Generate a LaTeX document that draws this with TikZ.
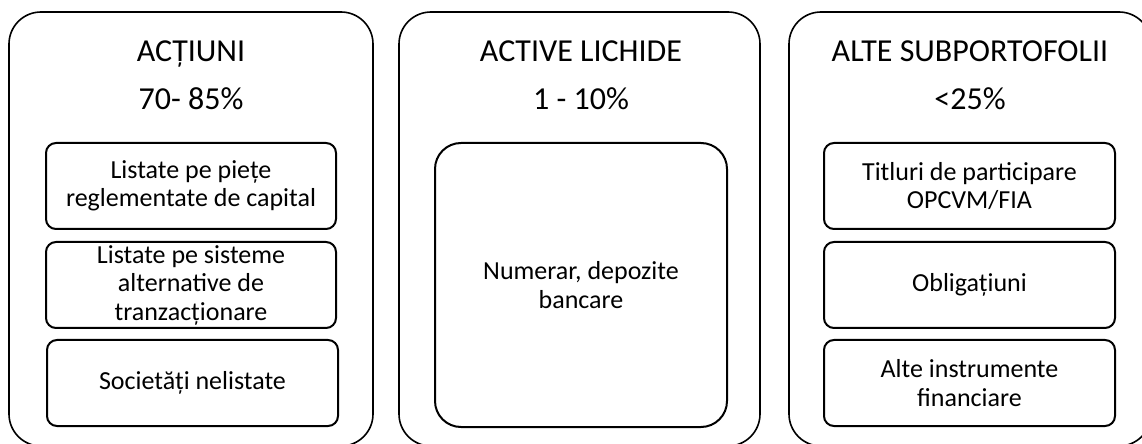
\documentclass[tikz,border=0pt]{standalone}
\usepackage{fontspec}
\setmainfont{Carlito}
\begin{document}
\begin{tikzpicture}[x=1bp,y=-1bp,
  outerbox/.style={draw, line width=1.6bp, rounded corners=32bp, anchor=north west, inner sep=0pt, outer sep=0pt},
  innerbox/.style={draw, line width=2bp, rounded corners=10bp, anchor=north west, align=center, inner sep=0pt, outer sep=0pt, font=\fontsize{26bp}{28.5bp}\selectfont},
  titletext/.style={anchor=base, inner sep=0pt, font=\fontsize{32bp}{36bp}\selectfont}]
\useasboundingbox (0,0) rectangle (1142,444);
\clip (0,0) rectangle (1142,444);
% outer boxes
\node[outerbox, minimum width=364bp, minimum height=434bp] (A) at (9,12) {};
\node[outerbox, minimum width=361bp, minimum height=434bp] (B) at (399,12) {};
\node[outerbox, minimum width=362bp, minimum height=434bp] (C) at (789,12) {};
% titles
\node[titletext] (At) at (191,62) {ACȚIUNI};
\node[titletext] (Ap) at (191,110) {70- 85\%};
\node[titletext] (Bt) at (581,62) {ACTIVE LICHIDE};
\node[titletext] (Bp) at (581,110) {1 - 10\%};
\node[titletext] (Ct) at (970,62) {ALTE SUBPORTOFOLII};
\node[titletext] (Cp) at (970,110) {<25\%};
% inner boxes
\node[innerbox, minimum width=290bp, minimum height=86bp] (A1) at (46,143) {Listate pe piețe\\reglementate de capital};
\node[innerbox, minimum width=290bp, minimum height=86bp] (A2) at (46,242) {Listate pe sisteme\\alternative de\\tranzacționare};
\node[innerbox, minimum width=291bp, minimum height=86bp] (A3) at (47,340) {Societăți nelistate};
\node[innerbox, rounded corners=26bp, minimum width=292bp, minimum height=284bp] (B1) at (435,143) {Numerar, depozite\\bancare};
\node[innerbox, minimum width=291bp, minimum height=86bp] (C1) at (824,143) {Titluri de participare\\OPCVM/FIA};
\node[innerbox, minimum width=291bp, minimum height=86bp] (C2) at (824,242) {Obligațiuni};
\node[innerbox, minimum width=291bp, minimum height=86bp] (C3) at (824,340) {Alte instrumente\\financiare};
\end{tikzpicture}
\end{document}
